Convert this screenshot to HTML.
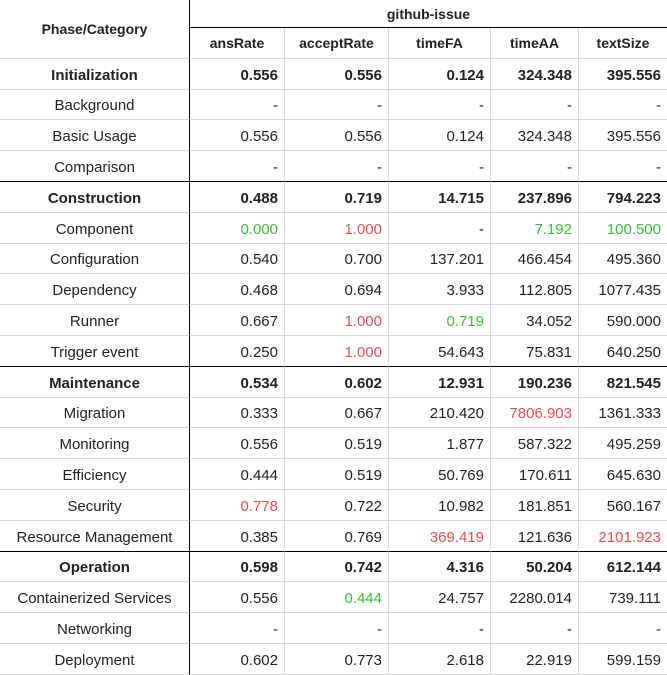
<!DOCTYPE html>
<html><head><meta charset="utf-8">
<style>
body{margin:0;background:#fff;font-family:"Liberation Sans",Arial,sans-serif;}
table{border-collapse:separate;border-spacing:0;table-layout:fixed;width:667px;font-size:15px;color:#222;}
td,th{border:0;border-right:1px solid #d9d9d9;border-bottom:1px solid #d9d9d9;padding:0 6px;height:29.8px;white-space:nowrap;overflow:hidden;box-sizing:content-box}
td{padding-top:3px;height:26.8px}
th{font-size:14px;font-weight:bold;text-align:center;color:#222}
td{text-align:right}
td.c{text-align:center}
tr.b td{font-weight:bold}
tr.pre td{border-bottom:1px solid #000}
.k0{border-right:1px solid #000 !important}
td:last-child,th.l{border-right:none}
.g{color:#33c033}.r{color:#f04848}
</style></head><body>
<table>
<colgroup><col style="width:190px"><col style="width:95px"><col style="width:104px"><col style="width:102px"><col style="width:88px"><col style="width:88px"></colgroup>
<tr><th rowspan="2" class="k0">Phase/Category</th><th colspan="5" class="l" style="border-bottom:1px solid #000;height:27px">github-issue</th></tr>
<tr><th>ansRate</th><th>acceptRate</th><th>timeFA</th><th>timeAA</th><th class="l">textSize</th></tr>
<tr class="b"><td class="c k0">Initialization</td><td>0.556</td><td>0.556</td><td>0.124</td><td>324.348</td><td>395.556</td></tr>
<tr><td class="c k0">Background</td><td>-</td><td>-</td><td>-</td><td>-</td><td>-</td></tr>
<tr><td class="c k0">Basic Usage</td><td>0.556</td><td>0.556</td><td>0.124</td><td>324.348</td><td>395.556</td></tr>
<tr class="pre"><td class="c k0">Comparison</td><td>-</td><td>-</td><td>-</td><td>-</td><td>-</td></tr>
<tr class="b"><td class="c k0">Construction</td><td>0.488</td><td>0.719</td><td>14.715</td><td>237.896</td><td>794.223</td></tr>
<tr><td class="c k0">Component</td><td class="g">0.000</td><td class="r">1.000</td><td>-</td><td class="g">7.192</td><td class="g">100.500</td></tr>
<tr><td class="c k0">Configuration</td><td>0.540</td><td>0.700</td><td>137.201</td><td>466.454</td><td>495.360</td></tr>
<tr><td class="c k0">Dependency</td><td>0.468</td><td>0.694</td><td>3.933</td><td>112.805</td><td>1077.435</td></tr>
<tr><td class="c k0">Runner</td><td>0.667</td><td class="r">1.000</td><td class="g">0.719</td><td>34.052</td><td>590.000</td></tr>
<tr class="pre"><td class="c k0">Trigger event</td><td>0.250</td><td class="r">1.000</td><td>54.643</td><td>75.831</td><td>640.250</td></tr>
<tr class="b"><td class="c k0">Maintenance</td><td>0.534</td><td>0.602</td><td>12.931</td><td>190.236</td><td>821.545</td></tr>
<tr><td class="c k0">Migration</td><td>0.333</td><td>0.667</td><td>210.420</td><td class="r">7806.903</td><td>1361.333</td></tr>
<tr><td class="c k0">Monitoring</td><td>0.556</td><td>0.519</td><td>1.877</td><td>587.322</td><td>495.259</td></tr>
<tr><td class="c k0">Efficiency</td><td>0.444</td><td>0.519</td><td>50.769</td><td>170.611</td><td>645.630</td></tr>
<tr><td class="c k0">Security</td><td class="r">0.778</td><td>0.722</td><td>10.982</td><td>181.851</td><td>560.167</td></tr>
<tr class="pre"><td class="c k0">Resource Management</td><td>0.385</td><td>0.769</td><td class="r">369.419</td><td>121.636</td><td class="r">2101.923</td></tr>
<tr class="b"><td class="c k0">Operation</td><td>0.598</td><td>0.742</td><td>4.316</td><td>50.204</td><td>612.144</td></tr>
<tr><td class="c k0">Containerized Services</td><td>0.556</td><td class="g">0.444</td><td>24.757</td><td>2280.014</td><td>739.111</td></tr>
<tr><td class="c k0">Networking</td><td>-</td><td>-</td><td>-</td><td>-</td><td>-</td></tr>
<tr><td class="c k0">Deployment</td><td>0.602</td><td>0.773</td><td>2.618</td><td>22.919</td><td>599.159</td></tr>
</table>
</body></html>
